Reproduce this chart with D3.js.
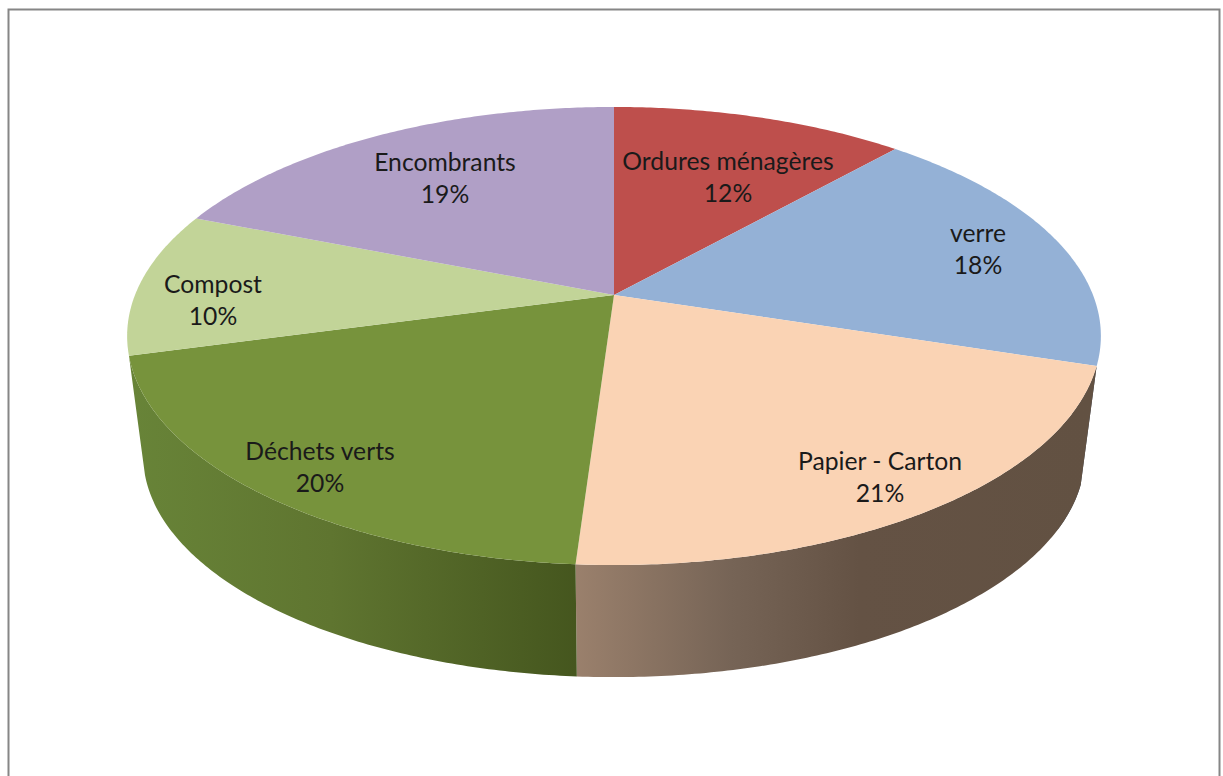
<!DOCTYPE html>
<html><head><meta charset="utf-8">
<script src="https://cdn.jsdelivr.net/npm/d3@7"></script>
<style>html,body{margin:0;padding:0;background:#fff}svg{display:block}</style>
</head><body><div id="c"></div>
<script>
const categories = ["Ordures ménagères","verre","Papier - Carton","Déchets verts","Compost","Encombrants"];
const values = [11.6,18.3,21.15,19.75,10.2,19.0];
const percentLabels = ["12%","18%","21%","20%","10%","19%"];
const colors = ["#BE4F4C","#94B1D6","#FAD3B4","#77933C","#C2D498","#B09FC6"];

const W=1223,H=776;
const svg=d3.select("#c").append("svg").attr("width",W).attr("height",H);
const defs=svg.append("defs");

// perspective disc
const persp=0.179, RX=479, RY=221.7, cx=614, cyTop=295, cyBot=416, botScale=0.967;
function proj(theta,f,cy,s){
  const x=Math.sin(theta)*f, y=-Math.cos(theta)*f, w=1-persp*y;
  return [cx+s*RX*x/w, cy+s*RY*y/w];
}
const arcPts=(a,b,cy,s)=>{
  const n=Math.max(2,Math.ceil(Math.abs(b-a)/0.01));
  return d3.range(n+1).map(i=>proj(a+(b-a)*i/n,1,cy,s));
};
const line=d3.line();
const arcs=d3.pie().sort(null).startAngle(0).endAngle(2*Math.PI).value(d=>d)(values);

// side gradients
function grad(id,x1,x2,stops){
  const g=defs.append("linearGradient").attr("id",id).attr("gradientUnits","userSpaceOnUse")
    .attr("x1",x1).attr("x2",x2).attr("y1",0).attr("y2",0);
  stops.forEach(s=>g.append("stop").attr("offset",s[0]).attr("stop-color",s[1]));
}
grad("gGreen",129,577,[[0,"#688438"],[0.45,"#5f7530"],[1,"#45561E"]]);
grad("gPeach",577,1090,[[0,"#9A806C"],[0.3,"#766456"],[0.55,"#645244"],[1,"#625142"]]);

// sides: blue sliver, peach, green
const sides=[
  {a:arcs[1].startAngle+1.35,b:arcs[1].endAngle,fill:"#3E4A5C"},
  {a:arcs[2].startAngle,b:arcs[2].endAngle,fill:"url(#gPeach)"},
  {a:arcs[3].startAngle,b:arcs[3].endAngle,fill:"url(#gGreen)"}
];
svg.append("g").selectAll("path").data(sides).join("path")
  .attr("d",d=>line(arcPts(d.a,d.b,cyTop,1).concat(arcPts(d.b,d.a,cyBot,botScale)))+"Z")
  .attr("fill",d=>d.fill);

// top faces
svg.append("g").selectAll("path").data(arcs).join("path")
  .attr("d",d=>line([[cx,cyTop]].concat(arcPts(d.startAngle,d.endAngle,cyTop,1)))+"Z")
  .attr("fill",(d,i)=>colors[i]);

// labels
const labelCenters=[[728,162],[978,234],[880,462],[320,452],[213,285],[445,163]];
const lab=svg.append("g").attr("font-family","Lato, 'Open Sans', sans-serif").attr("font-size",24.7)
  .attr("fill","#1a1a1a").attr("text-anchor","middle");
categories.forEach((c,i)=>{
  const p=labelCenters[i];
  lab.append("text").attr("x",p[0]).attr("y",p[1]+8).text(c);
  lab.append("text").attr("x",p[0]).attr("y",p[1]+40).text(percentLabels[i]);
});

// frame
svg.append("rect").attr("x",8.5).attr("y",9.5).attr("width",1211).attr("height",820)
  .attr("fill","none").attr("stroke","#868686").attr("stroke-width",2);
</script></body></html>
